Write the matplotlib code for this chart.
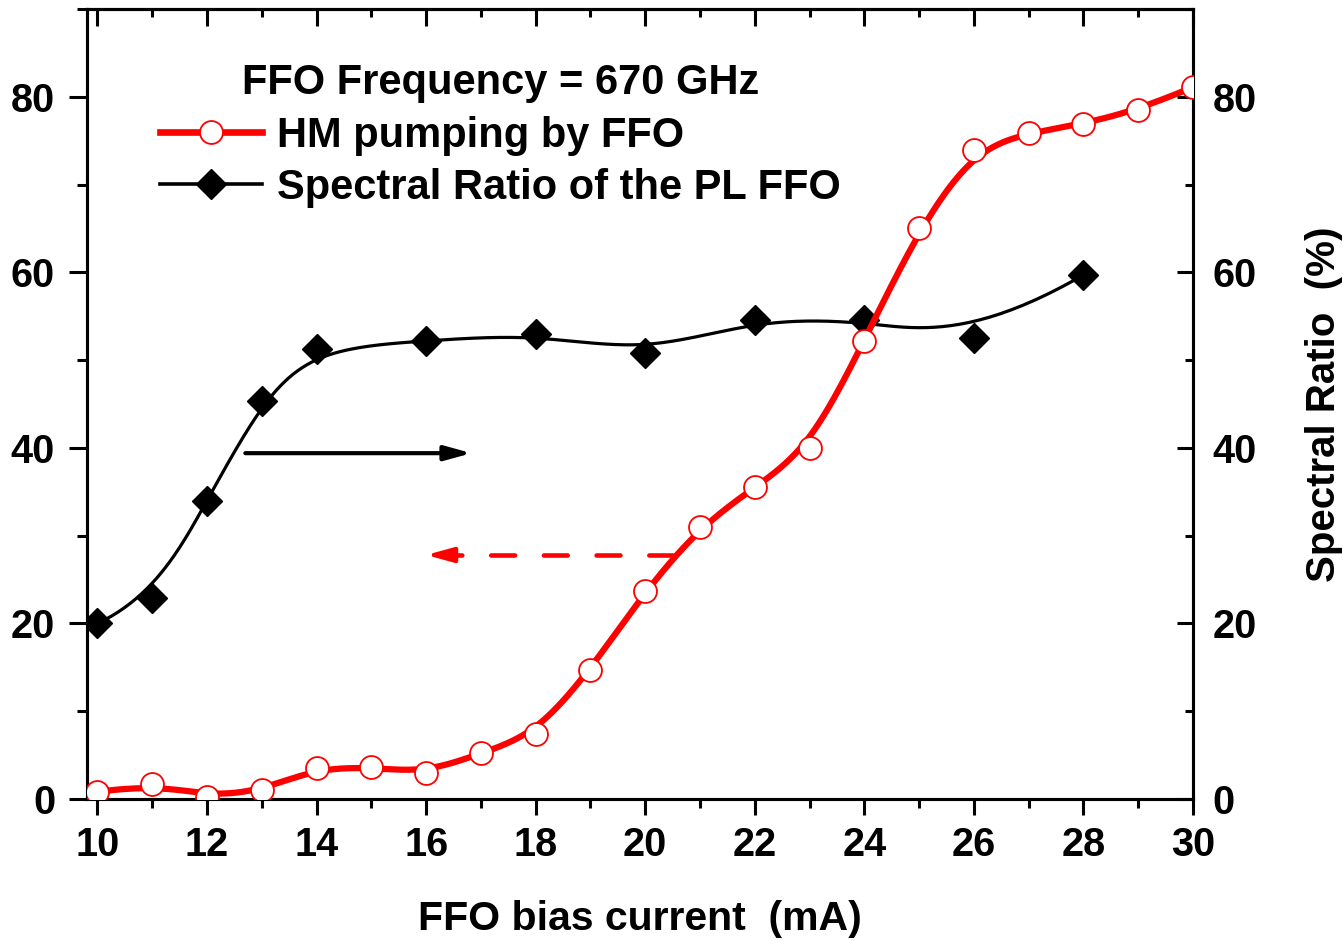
import numpy as np
import matplotlib
matplotlib.use("Agg")
import matplotlib.pyplot as plt
from matplotlib.ticker import MultipleLocator
from matplotlib.lines import Line2D

plt.rcParams["font.family"] = "Liberation Sans"
plt.rcParams["font.weight"] = "bold"

# HM pumping (left axis) vs FFO bias current
ibias_hm = [10, 11, 12, 13, 14, 15, 16, 17, 18, 19, 20,
            21, 22, 23, 24, 25, 26, 27, 28, 29, 30]
hm_pump = [0.8, 1.7, 0.2, 1.0, 3.5, 3.6, 3.0, 5.2, 7.4, 14.7, 23.7,
           31.0, 35.5, 40.0, 52.2, 65.0, 73.9, 75.9, 76.9, 78.5, 81.1]

# spectral ratio of the phase-locked FFO (right axis)
ibias_sr = [10, 11, 12, 13, 14, 16, 18, 20, 22, 24, 26, 28]
spec_ratio = [20.0, 22.9, 33.9, 45.4, 51.3, 52.2, 53.0, 50.8, 54.6, 54.6, 52.5, 59.7]


def bspline(x, y, k=3, n=400):
    # clamped uniform B-spline using the data points as control points
    pts = np.column_stack([x, y]).astype(float)
    m = len(pts)
    knots = np.concatenate([np.zeros(k), np.arange(m - k + 1), np.full(k, m - k)]).astype(float)
    t = np.linspace(0, m - k, n)
    t[-1] -= 1e-9
    N = ((knots[:-1, None] <= t) & (t < knots[1:, None])).astype(float)
    for d in range(1, k + 1):
        nb = len(knots) - d - 1
        Nd = np.zeros((nb, len(t)))
        for i in range(nb):
            a = knots[i + d] - knots[i]
            b = knots[i + d + 1] - knots[i + 1]
            if a > 0:
                Nd[i] += (t - knots[i]) / a * N[i]
            if b > 0:
                Nd[i] += (knots[i + d + 1] - t) / b * N[i + 1]
        N = Nd
    c = N.T @ pts
    return c[:, 0], c[:, 1]


fig = plt.figure(figsize=(13.43, 9.41), dpi=100)
ax = fig.add_axes([0.0648, 0.1509, 0.8235, 0.8395])
ax2 = ax.twinx()
ax.set_zorder(ax2.get_zorder() + 1)
ax.patch.set_visible(False)

# black curve on the right axis
sx, sy = bspline(ibias_sr, spec_ratio)
ax2.plot(sx, sy, color="black", lw=2.3, zorder=2)
ax2.plot(ibias_sr, spec_ratio, ls="none", marker="D", ms=15.5,
         mfc="black", mec="black", zorder=3)

# red curve on the left axis
hx, hy = bspline(ibias_hm, hm_pump)
ax.plot(hx, hy, color="red", lw=4.5, zorder=2)
ax.plot(ibias_hm, hm_pump, ls="none", marker="o", ms=16.5,
        mfc="white", mec="red", mew=1.3, zorder=3)

# axis arrows
ax.annotate("", xy=(16.83, 39.4), xytext=(12.70, 39.4),
            arrowprops=dict(arrowstyle="-|>,head_length=0.8,head_width=0.22",
                            color="black", lw=3, mutation_scale=20,
                            shrinkA=0, shrinkB=0, capstyle="round"))
ax.plot([16.22, 20.82], [27.8, 27.8], color="red", lw=3.3,
        dashes=(5.2, 6.3), dash_capstyle="round")
ax.annotate("", xy=(16.0, 27.8), xytext=(16.45, 27.8),
            arrowprops=dict(arrowstyle="-|>,head_length=0.8,head_width=0.22",
                            color="red", lw=3, mutation_scale=20,
                            shrinkA=0, shrinkB=0))

ax.set_xlim(9.81, 30)
ax.set_ylim(0, 90)
ax2.set_ylim(0, 90)

for a in (ax, ax2):
    a.xaxis.set_major_locator(MultipleLocator(2))
    a.xaxis.set_minor_locator(MultipleLocator(1))
    a.yaxis.set_major_locator(MultipleLocator(20))
    a.yaxis.set_minor_locator(MultipleLocator(10))
    for s in a.spines.values():
        s.set_linewidth(2.2)

ax.tick_params(axis="x", which="both", direction="out", width=2.2,
               labelsize=28.5, pad=8, top=False)
ax.tick_params(axis="x", which="major", length=11.5)
ax.tick_params(axis="x", which="minor", length=6.5)
ax.tick_params(axis="y", which="both", direction="out", width=2.2,
               labelsize=28.5, pad=10, right=False)
ax.tick_params(axis="y", which="major", length=13)
ax.tick_params(axis="y", which="minor", length=7)
ax2.tick_params(axis="y", which="both", direction="in", width=2.2,
                labelsize=28.5, pad=14)
ax2.tick_params(axis="y", which="major", length=11.5)
ax2.tick_params(axis="y", which="minor", length=6)

top = ax.secondary_xaxis("top")
top.xaxis.set_major_locator(MultipleLocator(2))
top.xaxis.set_minor_locator(MultipleLocator(1))
top.tick_params(axis="x", which="both", direction="in", width=2.2, labeltop=False)
top.tick_params(axis="x", which="major", length=12)
top.tick_params(axis="x", which="minor", length=6)
top.spines["top"].set_linewidth(2.2)

ax.set_xlabel("FFO bias current  (mA)", fontsize=29.5, fontweight="bold", labelpad=26)
ax2.set_ylabel("Spectral Ratio  (%)", fontsize=29, fontweight="bold", labelpad=35)

h_hm = Line2D([], [], color="red", lw=4.8, marker="o", ms=16.5,
              mfc="white", mec="red", mew=1.3)
h_sr = Line2D([], [], color="black", lw=2.6, marker="D", ms=15.5,
              mfc="black", mec="black")
ax.legend([h_hm, h_sr], ["HM pumping by FFO", "Spectral Ratio of the PL FFO"],
          title="FFO Frequency = 670 GHz",
          loc="upper left", bbox_to_anchor=(160 / 1343, 1 - 63 / 941),
          bbox_transform=fig.transFigure, frameon=False,
          prop=dict(weight="bold", size=30),
          title_fontproperties=dict(weight="bold", size=30),
          handlelength=2.45, handletextpad=0.36, labelspacing=0.3,
          borderpad=0, borderaxespad=0)

fig.savefig("out.png", dpi=100)
